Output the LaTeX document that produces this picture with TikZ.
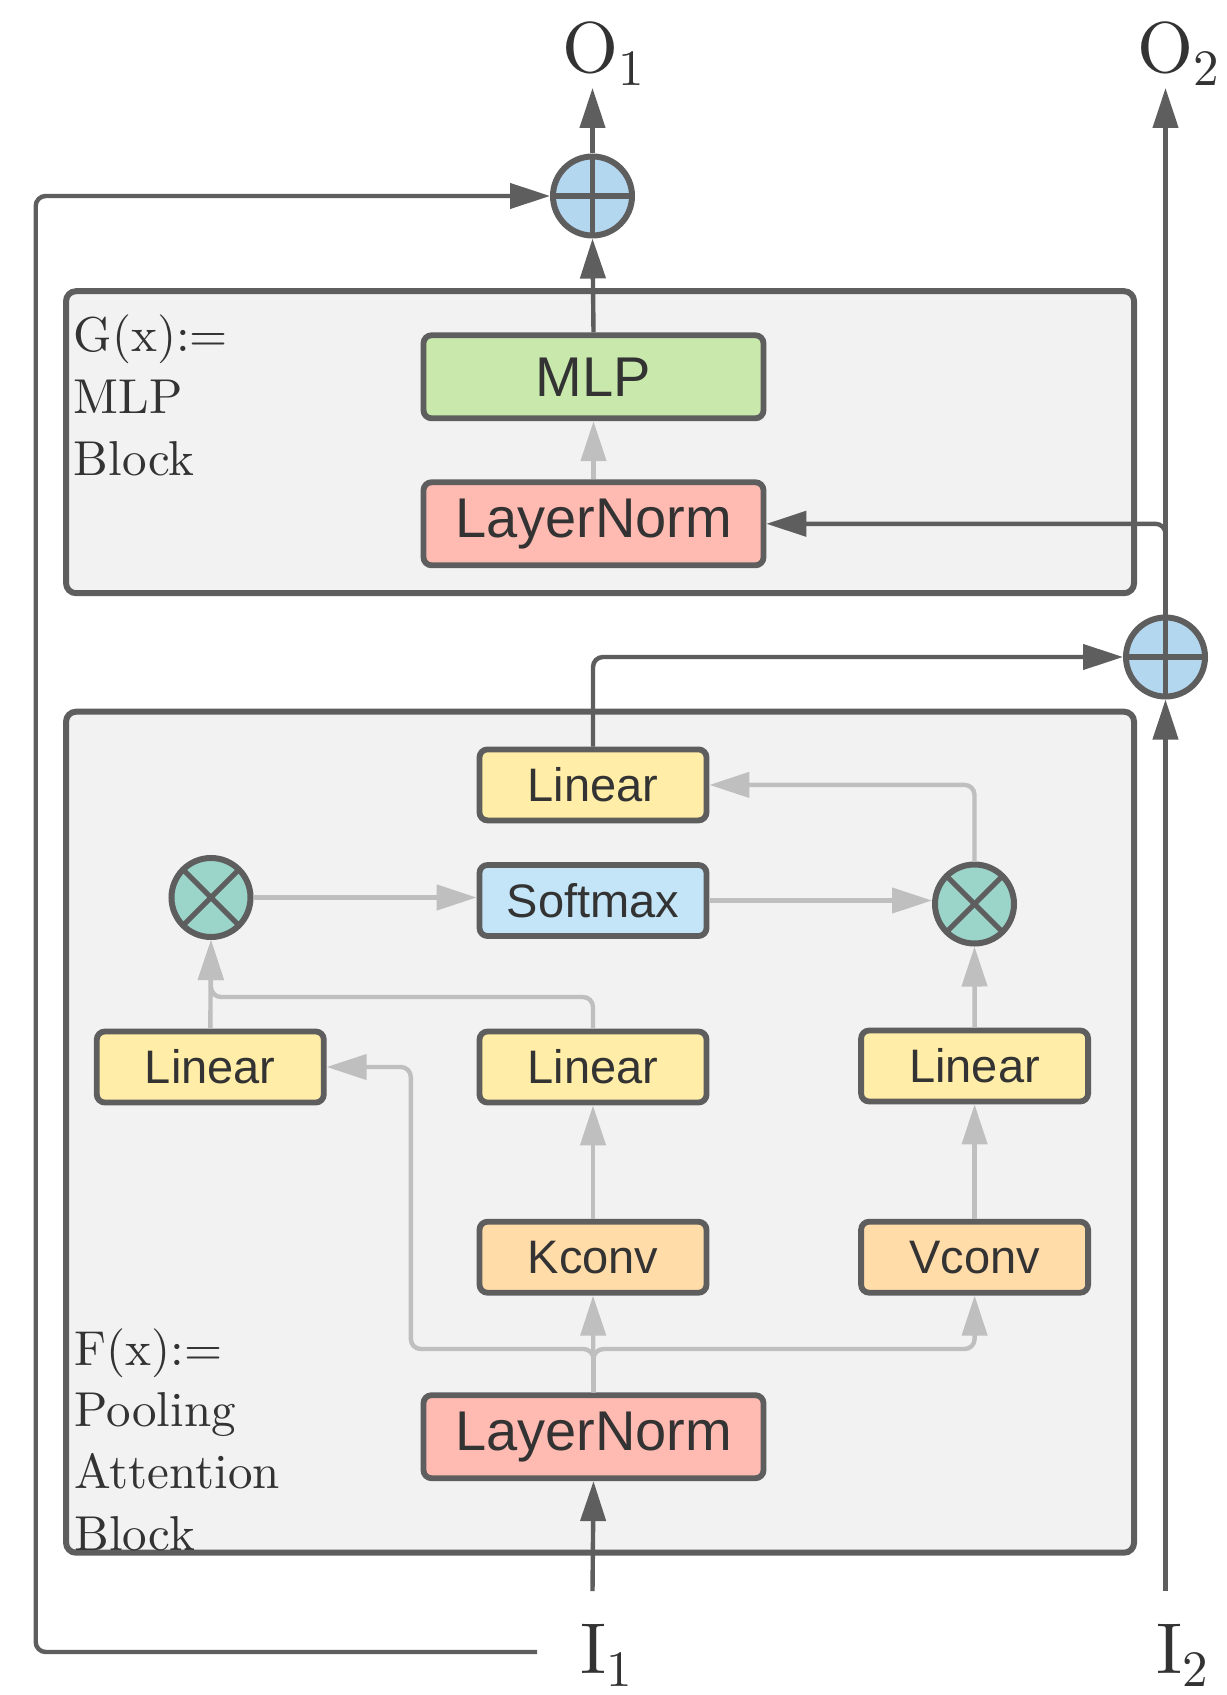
\documentclass[tikz,border=0pt]{standalone}
\usepackage{fontspec}
\newfontfamily\sansf{Liberation Sans}
\newfontfamily\lmten{lmroman10-regular.otf}
\usetikzlibrary{arrows.meta}
\definecolor{dk}{HTML}{5E5E5E}
\definecolor{grl}{HTML}{BFBFBF}
\definecolor{boxbg}{HTML}{F2F2F2}
\definecolor{txt}{HTML}{333333}
\definecolor{mlpc}{HTML}{C8E8AC}
\definecolor{lnc}{HTML}{FFBAB2}
\definecolor{linc}{HTML}{FFEDA8}
\definecolor{softc}{HTML}{C3E5F7}
\definecolor{convc}{HTML}{FFDCA8}
\definecolor{plusc}{HTML}{B4D7F0}
\definecolor{timesc}{HTML}{9BD5CA}
\begin{document}
\begin{tikzpicture}[x=0.5pt,y=-0.5pt,
  every node/.style={text=txt},
  outerbox/.style={draw=dk, line width=3pt, fill=boxbg, rounded corners=5pt, minimum width=534pt, inner sep=0},
  blk/.style={draw=dk, line width=2.9pt, rounded corners=4pt, inner sep=0, font=\sansf\fontsize{23.5}{28}\selectfont, minimum width=113.5pt, minimum height=35.5pt},
  bigblk/.style={blk, font=\sansf\fontsize{28}{32}\selectfont, minimum width=170pt, minimum height=41.5pt},
  opc/.style={circle, draw=dk, line width=3pt, minimum size=39.5pt, inner sep=0},
  plusop/.style={opc, fill=plusc, path picture={\draw[dk, line width=2.6pt] (path picture bounding box.north) -- (path picture bounding box.south) (path picture bounding box.west) -- (path picture bounding box.east);}},
  timesop/.style={opc, fill=timesc, path picture={\draw[dk, line width=2.6pt] (path picture bounding box.north west) -- (path picture bounding box.south east) (path picture bounding box.north east) -- (path picture bounding box.south west);}},
  dkline/.style={draw=dk, line width=2.2pt},
  grline/.style={draw=grl, line width=2.2pt},
  arr/.style={-{Triangle[length=20pt,width=12.5pt]}},
  serif/.style={anchor=base west, inner sep=0, font=\lmten\fontsize{24.5}{30}\selectfont},
  iolab/.style={anchor=base west, inner sep=0, font=\lmten\fontsize{36}{40}\selectfont},
]
\useasboundingbox[fill=white] (0,0) rectangle (1226,1695);

% container blocks
\node[outerbox, minimum height=151pt] (Gbox) at (600.05,442.2) {};
\node[outerbox, minimum height=420.5pt] (Fbox) at (600.05,1132.2) {};

% block labels
\node[serif] (g1) at (73.5,352) {G(x):=};
\node[serif] (g2) at (73.5,413.5) {MLP};
\node[serif] (g3) at (73.5,475) {Block};
\node[serif] (f1) at (74,1365) {F(x):=};
\node[serif] (f2) at (74,1426) {Pooling};
\node[serif] (f3) at (74,1488) {Attention};
\node[serif] (f4) at (74,1550) {Block};

% inputs / outputs
\node[iolab] (O1) at (562,73) {O\raisebox{-6.5pt}{\fontsize{25.5}{25.5}\selectfont 1}};
\node[iolab] (O2) at (1137,73) {O\raisebox{-6.5pt}{\fontsize{25.5}{25.5}\selectfont 2}};
\node[iolab] (I1) at (580,1673) {I\raisebox{-6.5pt}{\fontsize{25.5}{25.5}\selectfont 1}};
\node[iolab] (I2) at (1156,1673) {I\raisebox{-6.5pt}{\fontsize{25.5}{25.5}\selectfont 2}};

% G block
\node[bigblk, fill=mlpc] (MLP) at (593.5,376.8) {MLP};
\node[bigblk, fill=lnc] (LNG) at (593.5,523.8) {LayerNorm};

% F block
\node[blk, fill=linc] (LinT) at (593,784.9) {Linear};
\node[blk, fill=softc] (Soft) at (593,900.5) {Softmax};
\node[blk, fill=linc] (LinL) at (210.3,1067) {Linear};
\node[blk, fill=linc] (LinM) at (593,1067) {Linear};
\node[blk, fill=linc] (LinR) at (974.6,1066) {Linear};
\node[blk, fill=convc] (Kconv) at (593,1257.2) {Kconv};
\node[blk, fill=convc] (Vconv) at (974.6,1257.2) {Vconv};
\node[bigblk, fill=lnc] (LNF) at (593.5,1436.7) {LayerNorm};

% operators
\node[plusop] (pT) at (592.5,196) {};
\node[plusop] (pR) at (1165.5,657) {};
\node[timesop] (TL) at (211,897.5) {};
\node[timesop] (TR) at (974.5,904) {};

% helper coordinates
\coordinate (o1tip) at (592.5,88);
\coordinate (o2tip) at (1165.5,88);
\coordinate (i1top) at (592.5,1591);
\coordinate (i2top) at (1165.5,1591);
\coordinate (skipS) at (537,1652);
\coordinate (skipC) at (35.7,1652);
\coordinate (jq) at (211,997);
\coordinate (jL) at (410.8,1349);
\coordinate (jR) at (974.6,1349);

% dark connectors
\draw[dkline, arr] (pT.north) -- (o1tip);
\draw[dkline, arr] (MLP.north) -- (pT.south);
\draw[dkline, arr, rounded corners=5pt] (skipS) -- (skipC) |- (pT.west);
\draw[dkline, arr] (i1top) -- (LNF.south);
\draw[dkline, arr] (i2top) -- (pR.south);
\draw[dkline, arr] (pR.north) -- (o2tip);
\draw[dkline, arr, rounded corners=5pt] (pR.north) |- (LNG.east);
\draw[dkline, arr, rounded corners=5pt] (LinT.north) |- (pR.west);

% gray connectors
\draw[grline, arr] (LNG.north) -- (MLP.south);
\draw[grline, arr] (LNF.north) -- (Kconv.south);
\draw[grline, arr, rounded corners=5pt] (LNF.north) |- (jL) |- (LinL.east);
\draw[grline, arr, rounded corners=5pt] (LNF.north) |- (jR) -- (Vconv.south);
\draw[grline, arr] (Kconv.north) -- (LinM.south);
\draw[grline, arr] (Vconv.north) -- (LinR.south);
\draw[grline, arr] (LinL.north) -- (TL.south);
\draw[grline, arr, rounded corners=5pt] (LinM.north) |- (jq) -- (TL.south);
\draw[grline, arr] (LinR.north) -- (TR.south);
\draw[grline, arr] (TL.east) -- (TL.east -| Soft.west);
\draw[grline, arr] (Soft.east) -- (Soft.east -| TR.west);
\draw[grline, arr, rounded corners=5pt] (TR.north) |- (LinT.east);
\end{tikzpicture}
\end{document}
